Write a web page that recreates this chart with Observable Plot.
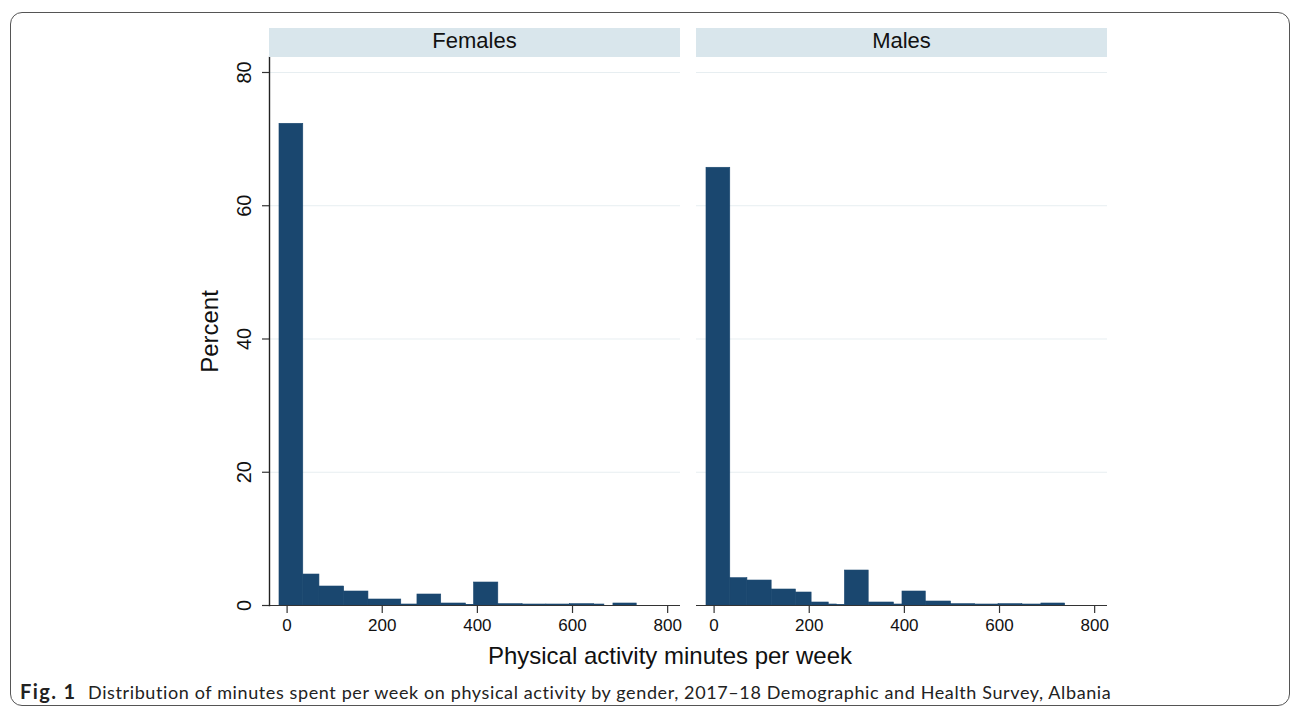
<!DOCTYPE html>
<html>
<head>
<meta charset="utf-8">
<script src="https://cdn.jsdelivr.net/npm/d3@7"></script>
<script src="https://cdn.jsdelivr.net/npm/@observablehq/plot@0.6"></script>
<style>
  html, body { margin: 0; padding: 0; background: #fff; }
  #root { position: relative; width: 1292px; height: 708px; overflow: hidden; font-family: "Liberation Sans", Arial, sans-serif; }
  .box { position: absolute; left: 10px; top: 12px; width: 1280px; height: 694px; border: 1px solid #555; border-radius: 12px; box-sizing: border-box; }
  .strip { position: absolute; top: 28px; height: 29px; background: #d9e6ec; color: #111; font-size: 22px; line-height: 25px; text-align: center; }
  .xtitle { position: absolute; left: 0; width: 1340px; top: 640px; text-align: center; font-size: 24px; color: #111; line-height: 32px; }
  .caption { position: absolute; left: 20px; top: 679px; font-family: Lato, "Open Sans", sans-serif; font-size: 18px; color: #222; white-space: nowrap; line-height: 24px; }
  .caption b { display: inline-block; width: 68px; font-size: 20px; letter-spacing: 1.4px; }
  .panel { position: absolute; top: 57px; }
</style>
</head>
<body>
<div id="root">
  <div class="box"></div>
</div>
<script>
// ---- data ----
const panels = ["Females", "Males"];
const xTicks = [0, 200, 400, 600, 800];
const yTicks = [0, 20, 40, 60, 80];

// Females: bar start (min), bar end (min), percent
const femaleStart = [-16, 34, 68, 120, 171, 240, 274, 324, 376, 393, 444, 495, 545, 595, 645, 686];
const femaleEnd   = [34, 68, 120, 171, 240, 274, 324, 376, 393, 444, 495, 545, 595, 645, 667, 735];
const femalePct   = [72.3, 4.65, 2.85, 2.1, 0.9, 0.15, 1.65, 0.3, 0.1, 3.45, 0.2, 0.15, 0.15, 0.2, 0.15, 0.3];

// Males
const maleStart = [-16, 34, 70, 121, 172, 205, 241, 258, 275, 325, 378, 396, 445, 498, 548, 598, 648, 688];
const maleEnd   = [34, 70, 121, 172, 205, 241, 258, 275, 325, 378, 396, 445, 498, 548, 598, 648, 688, 738];
const malePct   = [65.7, 4.1, 3.75, 2.4, 1.95, 0.45, 0.15, 0.05, 5.25, 0.45, 0.15, 2.1, 0.6, 0.2, 0.15, 0.2, 0.15, 0.3];

const xTitle = "Physical activity minutes per week";
const yTitle = "Percent";
const captionLead = "Fig. 1";
const captionText = "Distribution of minutes spent per week on physical activity by gender, 2017\u201318 Demographic and Health Survey, Albania";

// ---- drawing ----
const barColor = "#1a476f";
const gridColor = "#e7eef1";
const root = document.getElementById("root");

function panel(starts, ends, pcts, showY, opts) {
  const data = starts.map((s, i) => ({x1: s, x2: ends[i], y: pcts[i]}));
  const marks = [
    Plot.ruleY(yTicks.filter(d => d > 0), {stroke: gridColor, strokeWidth: 1}),
    Plot.rectY(data, {x1: "x1", x2: "x2", y: "y", fill: barColor, stroke: barColor, strokeWidth: 0.6}),
    Plot.ruleY([0], {stroke: "#333", strokeWidth: 1.2}),
    Plot.axisX({ticks: xTicks, tickSize: 8, tickPadding: 5, label: null, stroke: "#333", fill: "#111", strokeWidth: 1.2})
  ];
  if (showY) {
    marks.push(
      Plot.axisY({ticks: yTicks, tickSize: 7, tickFormat: () => "", label: null, stroke: "#333", strokeWidth: 1.2}),
      Plot.frame({anchor: "left", stroke: "#222", strokeWidth: 1.4}),
      Plot.text(yTicks, {y: d => d, text: d => String(d), frameAnchor: "left", rotate: -90, dx: -19, lineAnchor: "bottom", textAnchor: "middle", fontSize: 20, fill: "#111"}),
      Plot.text([yTitle], {frameAnchor: "left", rotate: -90, dx: -52, lineAnchor: "bottom", textAnchor: "middle", fontSize: 24, fill: "#111"})
    );
  }
  return Plot.plot(Object.assign({
    height: 583,
    marginTop: 0,
    marginBottom: 35,
    x: {domain: [-37, 827], axis: null},
    y: {domain: [0, 82.25], axis: null},
    style: {fontFamily: "'Liberation Sans', Arial, sans-serif", fontSize: "17px", background: "transparent", color: "#222", overflow: "visible"},
    marks
  }, opts));
}

const left = panel(femaleStart, femaleEnd, femalePct, true, {width: 510, marginLeft: 89, marginRight: 10});
left.classList.add("panel");
left.style.left = "180px";
const right = panel(maleStart, maleEnd, malePct, false, {width: 427, marginLeft: 6, marginRight: 10});
right.classList.add("panel");
right.style.left = "690px";
root.appendChild(left);
root.appendChild(right);

// facet strips
[[269, 411], [696, 411]].forEach(([l, w], i) => {
  const s = document.createElement("div");
  s.className = "strip";
  s.style.left = l + "px";
  s.style.width = w + "px";
  s.textContent = panels[i];
  root.appendChild(s);
});

const xt = document.createElement("div");
xt.className = "xtitle";
xt.textContent = xTitle;
root.appendChild(xt);

const cap = document.createElement("div");
cap.className = "caption";
const b = document.createElement("b");
b.textContent = captionLead;
const sp = document.createElement("span");
sp.textContent = captionText;
cap.appendChild(b);
cap.appendChild(sp);
root.appendChild(cap);
// fit caption body to span from x=88 to x=1112
const target = 1112 - 88;
const w = sp.getBoundingClientRect().width;
sp.style.letterSpacing = ((target - w) / captionText.length) + "px";
</script>
</body>
</html>
